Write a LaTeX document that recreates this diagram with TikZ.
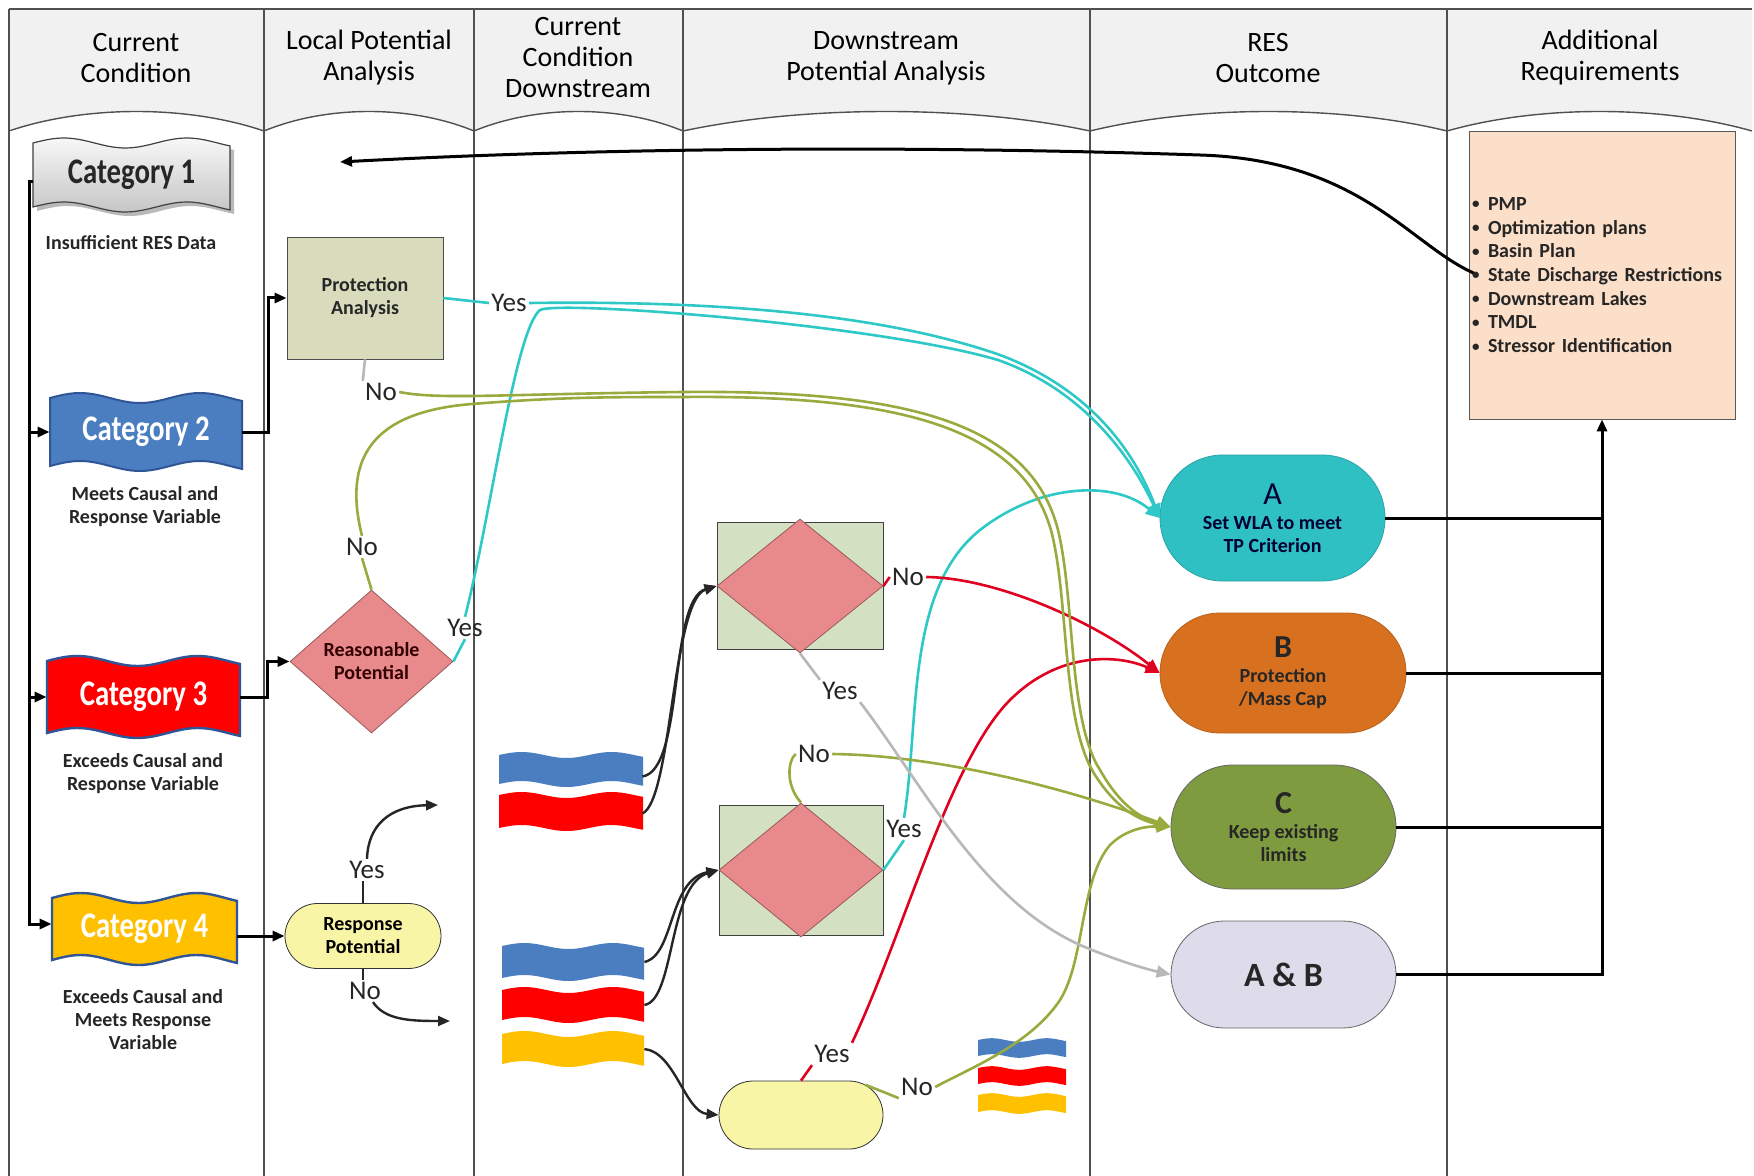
\documentclass[tikz,border=0pt]{standalone}
\usepackage{fontspec}
\setmainfont{Carlito}
\usepackage{graphicx}
\usetikzlibrary{shapes.geometric,shapes.misc,arrows.meta,calc}

\definecolor{hdrfill}{HTML}{F1F1F1}
\definecolor{lanecol}{HTML}{505050}
\definecolor{catblue}{HTML}{4A7EC1}
\definecolor{catred}{HTML}{FF0000}
\definecolor{catyellow}{HTML}{FFC000}
\definecolor{catedge}{HTML}{2F5597}
\definecolor{pafill}{HTML}{D8DCBC}
\definecolor{rpfill}{HTML}{E8898B}
\definecolor{rpedge}{HTML}{9A5A5A}
\definecolor{respfill}{HTML}{F8F5A6}
\definecolor{dboxfill}{HTML}{D4E0C2}
\definecolor{afill}{HTML}{2FC0C4}
\definecolor{bfill}{HTML}{D8711F}
\definecolor{cfill}{HTML}{7F9B3F}
\definecolor{abfill}{HTML}{DEDBEA}
\definecolor{reqfill}{HTML}{FCDFC8}
\definecolor{cyanl}{HTML}{2EC9C6}
\definecolor{redl}{HTML}{E00020}
\definecolor{olivel}{HTML}{9AAA3E}
\definecolor{grayl}{HTML}{B8B8B8}

\newcommand{\wavebanner}[6]{%
  \path[#6] plot[domain=#1:#3,samples=41] (\x,{#2-#5*sin((\x-#1)/(#3-#1)*576)})
    -- plot[domain=#3:#1,samples=41] (\x,{#4-#5*sin((\x-#1)/(#3-#1)*576)}) -- cycle;}
\newcommand{\reqbullet}{\makebox[8pt][l]{\raisebox{0.15ex}{\scalebox{0.75}{\textbullet}}}}

\tikzset{
  lane/.style={draw=lanecol, line width=0.7pt},
  hdr/.style={font=\fontsize{14}{15.5}\selectfont, align=center, text=black, inner sep=0},
  catnode/.style={font=\fontsize{18}{20}\selectfont\bfseries, inner sep=0, minimum height=34pt},
  desc/.style={font=\fontsize{10}{11.5}\selectfont\bfseries, align=center, text=black!85, inner sep=0},
  sbold/.style={font=\fontsize{10}{11.5}\selectfont\bfseries, align=center},
  yn/.style={font=\fontsize{13.5}{15}\selectfont, inner sep=1pt, text=black!85},
  flagnode/.style={inner sep=0, minimum width=71pt, minimum height=15pt},
  stadium/.style={rounded rectangle, inner sep=0},
  outc/.style={rounded rectangle, inner sep=0, align=center, font=\fontsize{10}{11.5}\selectfont\bfseries},
  blk/.style={draw=black, line width=1.5pt},
  blkthin/.style={draw=black!85, line width=1.2pt},
  withtip/.style={-{Triangle[length=6pt,width=5pt]}},
  cy/.style={draw=cyanl, line width=1.3pt},
  rd/.style={draw=redl, line width=1.3pt},
  ol/.style={draw=olivel, line width=1.3pt},
  gr/.style={draw=grayl, line width=1.3pt},
  ctip/.style={-{Triangle[length=7pt,width=6pt]}},
}

\begin{document}
\begin{tikzpicture}[x=0.5pt,y=-0.5pt]
\useasboundingbox (0,0) rectangle (1754,1176);
\fill[white] (0,0) rectangle (1754,1176);

% header band
\fill[hdrfill] (9,9) -- (1752,9) -- (1752,131)
  .. controls (1660.5,105) and (1538.5,105) .. (1447,131)
  .. controls (1340,105) and (1197,105) .. (1090,131)
  .. controls (968,105) and (805,105) .. (683,131)
  .. controls (620,105) and (537,105) .. (474,131)
  .. controls (411,105) and (327,105) .. (264,131)
  .. controls (187.5,105) and (85.5,105) .. (9,131) -- cycle;
\draw[lane] (9,131) .. controls (85.5,105) and (187.5,105) .. (264,131)
  .. controls (327,105) and (411,105) .. (474,131)
  .. controls (537,105) and (620,105) .. (683,131)
  .. controls (805,105) and (968,105) .. (1090,131)
  .. controls (1197,105) and (1340,105) .. (1447,131)
  .. controls (1538.5,105) and (1660.5,105) .. (1752,131);
\draw[lane] (9,9) -- (1752,9);
\foreach \lx in {9,264,474,683,1090,1447} {\draw[lane] (\lx,9) -- (\lx,1176);}

\node[hdr] (h1) at (136,58) {Current\\Condition};
\node[hdr] (h2) at (369,58) {Local Potential\\Analysis};
\node[hdr] (h3) at (578,58) {Current\\Condition\\Downstream};
\node[hdr] (h4) at (886,58) {Downstream\\Potential Analysis};
\node[hdr] (h5) at (1268,58) {RES\\Outcome};
\node[hdr] (h6) at (1600,58) {Additional\\Requirements};

% category banners
\wavebanner{37}{147}{234}{211}{5}{fill=gray!55}
\wavebanner{33}{143}{230}{207}{5}{draw=gray!50!black, line width=0.6pt, top color=gray!6, bottom color=gray!45}
\wavebanner{50}{398}{242}{466}{5}{fill=catblue, draw=catedge, line width=1pt}
\wavebanner{47}{661}{240}{733}{5}{fill=catred, draw=catedge, line width=1.2pt}
\wavebanner{52}{898}{237}{960}{5}{fill=catyellow, draw=catedge, line width=1.2pt}

\node[catnode, minimum width=98.5pt, text=black!85] (cat1) at (131.5,175) {\scalebox{0.8}[1]{Category 1}};
\node[catnode, minimum width=96pt, text=white] (cat2) at (146,432) {\scalebox{0.8}[1]{Category 2}};
\node[catnode, minimum width=96.5pt, text=white] (cat3) at (143.5,697) {\scalebox{0.8}[1]{Category 3}};
\node[catnode, minimum width=92.5pt, text=white] (cat4) at (144.5,929) {\scalebox{0.8}[1]{Category 4}};

\node[desc] (dcat1) at (131,243) {Insufficient RES Data};
\node[desc] (dcat2) at (145,507) {Meets Causal and\\Response Variable};
\node[desc] (dcat3) at (143,774) {Exceeds Causal and\\Response Variable};
\node[desc] (dcat4) at (143,1020) {Exceeds Causal and\\Meets Response\\Variable};

% flags in column 3 and column 4
\wavebanner{499}{755}{643}{784}{3}{fill=catblue}
\wavebanner{499}{795}{643}{828}{3}{fill=catred}
\wavebanner{502}{946}{644}{978}{3}{fill=catblue}
\wavebanner{502}{990}{644}{1020}{3}{fill=catred}
\wavebanner{502}{1034}{644}{1064}{3}{fill=catyellow}
\wavebanner{978}{1040}{1066}{1056}{1.8}{fill=catblue}
\wavebanner{978}{1068}{1066}{1084}{1.8}{fill=catred}
\wavebanner{978}{1095}{1066}{1112}{1.8}{fill=catyellow}
\node[flagnode] (fb1) at (571,769.5) {};
\node[flagnode] (fr1) at (571,811.5) {};
\node[flagnode] (fb2) at (573,962) {};
\node[flagnode] (fr2) at (573,1005) {};
\node[flagnode] (fy2) at (573,1049) {};

% local potential analysis
\node[draw=gray!60!black, fill=pafill, minimum width=78pt, minimum height=61pt, inner sep=0, sbold, text=black!85] (pa) at (365,298) {Protection\\Analysis};
\node[diamond, draw=rpedge, fill=rpfill, minimum width=81.5pt, minimum height=71.5pt, inner sep=0,
  label={[sbold, text=black!80!red]center:Reasonable\\Potential}] (rp) at (371.5,661.5) {};
\node[stadium, draw=black!80, fill=respfill, minimum width=78pt, minimum height=32.5pt, sbold] (resp) at (363,936) {Response\\Potential};

% downstream analysis
\node[draw=black!75, fill=dboxfill, minimum width=83pt, minimum height=63.5pt, inner sep=0] (d1box) at (800,585.5) {};
\node[diamond, draw=rpedge, fill=rpfill, minimum width=83pt, minimum height=67pt, inner sep=0] (d1) at (800,586) {};
\node[draw=black!75, fill=dboxfill, minimum width=82pt, minimum height=65pt, inner sep=0] (d2box) at (801,870) {};
\node[diamond, draw=rpedge, fill=rpfill, minimum width=82pt, minimum height=67pt, inner sep=0] (d2) at (801,870) {};
\node[stadium, draw=black!80, fill=respfill, minimum width=82pt, minimum height=34pt] (y3) at (801,1115) {};

% outcomes
\node[outc, fill=afill, draw=afill!85!black, minimum width=112.5pt, minimum height=63pt, text=black!80!blue] (a) at (1272.5,518)
  {{\fontsize{16}{16}\selectfont\mdseries A}\\[1pt]Set WLA to meet\\TP Criterion};
\node[outc, fill=bfill, draw=bfill!85!black, minimum width=123pt, minimum height=60pt, text=black!85] (b) at (1283,673)
  {{\fontsize{16}{16}\selectfont B}\\[1pt]Protection\\/Mass Cap};
\node[outc, fill=cfill, draw=black!60, minimum width=112.5pt, minimum height=62pt, text=black!85] (c) at (1283.5,827)
  {{\fontsize{16}{16}\selectfont C}\\[1pt]Keep existing\\limits};
\node[outc, fill=abfill, draw=black!60, minimum width=112.5pt, minimum height=53.5pt, text=black!85, font=\fontsize{17}{18}\selectfont\bfseries] (ab) at (1283.5,974.5) {A \& B};

% additional requirements
\node[draw=gray!70!black, fill=reqfill, minimum width=133pt, minimum height=144pt, text width=130pt, inner xsep=1.5pt, inner ysep=2pt,
  align=left, font=\fontsize{10}{11.85}\selectfont\bfseries, text=black!85] (req) at (1602,275)
  {\reqbullet PMP\\ \reqbullet Optimization plans\\ \reqbullet Basin Plan\\ \reqbullet\mbox{State Discharge Restrictions}\\
   \reqbullet Downstream Lakes\\ \reqbullet TMDL\\ \reqbullet Stressor Identification};

% yes / no labels
\node[yn] (lyPA) at (509,303) {Yes};
\node[yn] (lnPA) at (381,392) {No};
\node[yn] (lnRP) at (362,547) {No};
\node[yn] (lyRP) at (465,628) {Yes};
\node[yn] (lyR) at (367,870) {Yes};
\node[yn] (lnR) at (365,991) {No};
\node[yn] (lnD1) at (908,577) {No};
\node[yn] (lyD1) at (840,691) {Yes};
\node[yn] (lnD2) at (814,754) {No};
\node[yn] (lyD2) at (904,829) {Yes};
\node[yn] (lyY3) at (832,1054) {Yes};
\node[yn] (lnY3) at (917,1087) {No};

% black connectors
\coordinate (lbus) at (29,182);
\draw[blk, withtip] ($(cat1.west)+(0,7)$) -- (lbus) |- ($(cat4.west)+(0,-5)$);
\draw[blk, withtip] (lbus |- cat2.west) -- (cat2.west);
\draw[blk, withtip] (lbus |- cat3.west) -- (cat3.west);
\draw[blk, withtip] (cat2.east) -- ++(26,0) |- (pa.west);
\draw[blk, withtip] (cat3.east) -- ++(27,0) |- (rp.west);
\draw[blk, withtip] (cat4.east |- resp.west) -- (resp.west);

\coordinate (yesfree) at (438,805);
\coordinate (nofree) at (450,1021);
\draw[blkthin] (resp.north) -- (resp.north |- lyR.south);
\draw[blkthin, withtip] (lyR.north) .. controls (368,825) and (390,806) .. (yesfree);
\draw[blkthin] (resp.south) -- (resp.south |- lnR.north);
\draw[blkthin, withtip] ($(lnR.south)+(8,0)$) .. controls (385,1020) and (410,1021) .. (nofree);

\draw[blkthin, withtip] ($(fb1.east)+(0,7)$) .. controls (685,770) and (668,600) .. (d1.west);
\draw[blkthin, withtip] ($(fr1.east)+(0,2)$) .. controls (672,800) and (672,600) .. (d1.west);
\draw[blkthin, withtip] (fb2.east) .. controls (675,955) and (668,880) .. (d2.west);
\draw[blkthin, withtip] (fr2.east) .. controls (675,1000) and (668,885) .. (d2.west);
\draw[blkthin, withtip] (fy2.east) .. controls (675,1052) and (685,1112) .. (y3.west);

\coordinate (topend) at (340,162);
\draw[blk, withtip] ($(req.west)+(5,-2)$) .. controls (1410,245) and (1360,160) .. (1200,155)
  .. controls (900,145) and (600,148) .. (topend);

\coordinate (rbus) at (1602,974.5);
\draw[blk] (a.east) -- (a.east -| rbus);
\draw[blk] (b.east) -- (b.east -| rbus);
\draw[blk] (c.east) -- (c.east -| rbus);
\draw[blk, withtip] (ab.east) -- (rbus) -- (req.south);

% cyan connectors (to A)
\draw[cy] (pa.east) -- (lyPA.west);
\draw[cy, ctip] (lyPA.east) .. controls (750,300) and (900,320) .. (1000,355)
  .. controls (1080,385) and (1130,440) .. (a.west);
\draw[cy] (rp.east) -- (lyRP.south);
\draw[cy, ctip] (lyRP.north) .. controls (490,520) and (515,330) .. (540,310)
  .. controls (560,300) and (880,325) .. (998,360) .. controls (1072,386) and (1124,442) .. (a.west);
\draw[cy] (d2.east) -- (lyD2.south);
\draw[cy, ctip] (lyD2.north) .. controls (920,720) and (905,590) .. (980,530)
  .. controls (1040,483) and (1115,480) .. (a.west);

% red connectors (to B)
\draw[rd] (d1.east) -- (lnD1.west);
\draw[rd, ctip] (lnD1.east) .. controls (1000,578) and (1100,625) .. (b.west);
\draw[rd] (y3.north) -- (lyY3.south west);
\draw[rd, ctip] (lyY3.north east) .. controls (905,930) and (950,760) .. (1010,700)
  .. controls (1060,650) and (1120,655) .. (b.west);

% olive connectors (to C)
\draw[gr] (pa.south) -- (lnPA.north west);
\draw[ol, ctip] (lnPA.east) .. controls (440,400) and (500,394) .. (683,392)
  .. controls (900,390) and (1030,420) .. (1058,530) .. controls (1075,600) and (1068,720) .. (1100,770)
  .. controls (1120,805) and (1140,818) .. (c.west);
\draw[ol] (rp.north) -- (lnRP.south);
\draw[ol, ctip] (lnRP.north) .. controls (343,460) and (370,412) .. (472,404)
  .. controls (560,397) and (610,397) .. (683,397) .. controls (895,395) and (1024,426) .. (1052,534)
  .. controls (1069,604) and (1062,724) .. (1095,775) .. controls (1116,808) and (1138,820) .. (c.west);
\draw[ol] (d2.north) .. controls (785,785) and (788,760) .. (lnD2.west);
\draw[ol, ctip] (lnD2.east) .. controls (930,755) and (1060,785) .. (c.west);
\draw[ol] (y3.25) -- (lnY3.south west);
\draw[ol, ctip] (lnY3.east) .. controls (970,1068) and (1030,1045) .. (1060,1000)
  .. controls (1085,960) and (1080,880) .. (1110,845) .. controls (1125,830) and (1145,826) .. (c.west);

% gray connector (to A & B)
\draw[gr] (d1.south) -- (lyD1.north west);
\draw[gr, ctip] (lyD1.south east) .. controls (920,780) and (980,900) .. (1080,945)
  .. controls (1120,962) and (1150,970) .. (ab.west);
\end{tikzpicture}
\end{document}
